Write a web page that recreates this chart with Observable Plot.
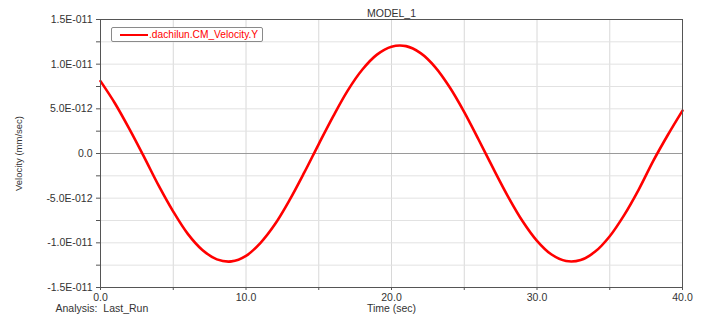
<!DOCTYPE html>
<html><head><meta charset="utf-8">
<script src="https://cdn.jsdelivr.net/npm/d3@7"></script>
<script src="https://cdn.jsdelivr.net/npm/@observablehq/plot@0.6"></script>
<style>
body{margin:0;background:#fff;}
#wrap{position:relative;width:705px;height:320px;font-family:"Liberation Sans",Arial,sans-serif;}
#legend{position:absolute;left:111px;top:27px;width:152px;height:15px;border:1px solid #8a8a8a;border-radius:2px;box-sizing:border-box;display:flex;align-items:center;font-size:10.2px;color:#f00;background:#fff;}
#legend .sw{display:inline-block;width:28px;height:0;border-top:2px solid #f00;margin-left:8px;margin-right:1px;}
</style></head><body><div id="wrap"><div id="legend"><span class="sw"></span><span>.dachilun.CM_Velocity.Y</span></div></div>
<script>
// Time (sec)
const time = [0,1,2,3,4,5,6,7,8,9,10,11,12,13,14,15,16,17,18,19,20,21,22,23,24,25,26,27,28,29,30,31,32,33,34,35,36,37,38,39,40];
// Velocity, in units of 1E-012 mm/sec
const velocity = [8.1,5.6,2.7,-0.4,-3.6,-6.5,-9.0,-10.8,-11.85,-12.08,-11.46,-10.0,-7.9,-5.2,-2.15,1.06,4.19,7.07,9.4,11.07,11.96,12.02,11.24,9.68,7.42,4.64,1.51,-1.7,-4.79,-7.55,-9.77,-11.31,-12.04,-11.93,-10.98,-9.26,-6.87,-4.01,-0.8,2.1,4.8];
const yTicks = [-15,-12.5,-10,-7.5,-5,-2.5,0,2.5,5,7.5,10,12.5,15];
const yTickLabels = ["-1.5E-011","","-1.0E-011","","-5.0E-012","","0.0","","5.0E-012","","1.0E-011","","1.5E-011"];
const xTicks = [0,5,10,15,20,25,30,35,40];
const xTickLabels = ["0.0","","10.0","","20.0","","30.0","","40.0"];
const yGrid = [-12.5,-10,-7.5,-5,-2.5,2.5,5,7.5,10,12.5];
const xGrid = [5,10,15,20,25,30,35];

const data = time.map((t,i)=>({t, v: velocity[i]}));
const yLab = new Map(yTicks.map((d,i)=>[d,yTickLabels[i]]));
const xLab = new Map(xTicks.map((d,i)=>[d,xTickLabels[i]]));

const chart = Plot.plot({
  width:705, height:320,
  marginLeft:100, marginRight:23, marginTop:19, marginBottom:33,
  style:{fontFamily:"'Liberation Sans', Arial, sans-serif", fontSize:"10.5px", color:"#333", background:"#fff"},
  x:{domain:[0,40]},
  y:{domain:[-15,15]},
  marks:[
    Plot.ruleX(xGrid,{stroke:"#d8d8d8", strokeWidth:1}),
    Plot.ruleY(yGrid,{stroke:"#e2e2e2", strokeWidth:1}),
    Plot.ruleY([0],{stroke:"#9a9a9a", strokeWidth:1.2}),
    Plot.line(data,{x:"t", y:"v", stroke:"#ff0000", strokeWidth:2.6, curve:"catmull-rom"}),
    Plot.frame({stroke:"#555", strokeWidth:1}),
    Plot.axisX({ticks:xTicks, tickSize:3, tickPadding:3, tickFormat:d=>xLab.get(d) ?? "", label:null, stroke:"#555", fontSize:10.5}),
    Plot.axisY({ticks:yTicks, tickSize:4, tickPadding:4, tickFormat:d=>yLab.get(d) ?? "", label:null, stroke:"#555", fontSize:10.5}),
    Plot.text(["MODEL_1"],{frameAnchor:"top", dy:-10, fontSize:10.5, fill:"#333"}),
    Plot.text(["Velocity (mm/sec)"],{frameAnchor:"left", dx:-82, rotate:-90, textAnchor:"middle", fontSize:9.5, fill:"#333"}),
    Plot.text(["Time (sec)"],{frameAnchor:"bottom", dy:24, fontSize:10.5, fill:"#333"}),
    Plot.text(["Analysis:\u00a0\u00a0Last_Run"],{frameAnchor:"bottom-left", dx:-45, dy:24, textAnchor:"start", fontSize:10.5, fill:"#333"})
  ]
});
document.getElementById("wrap").prepend(chart);
</script>
</body></html>
